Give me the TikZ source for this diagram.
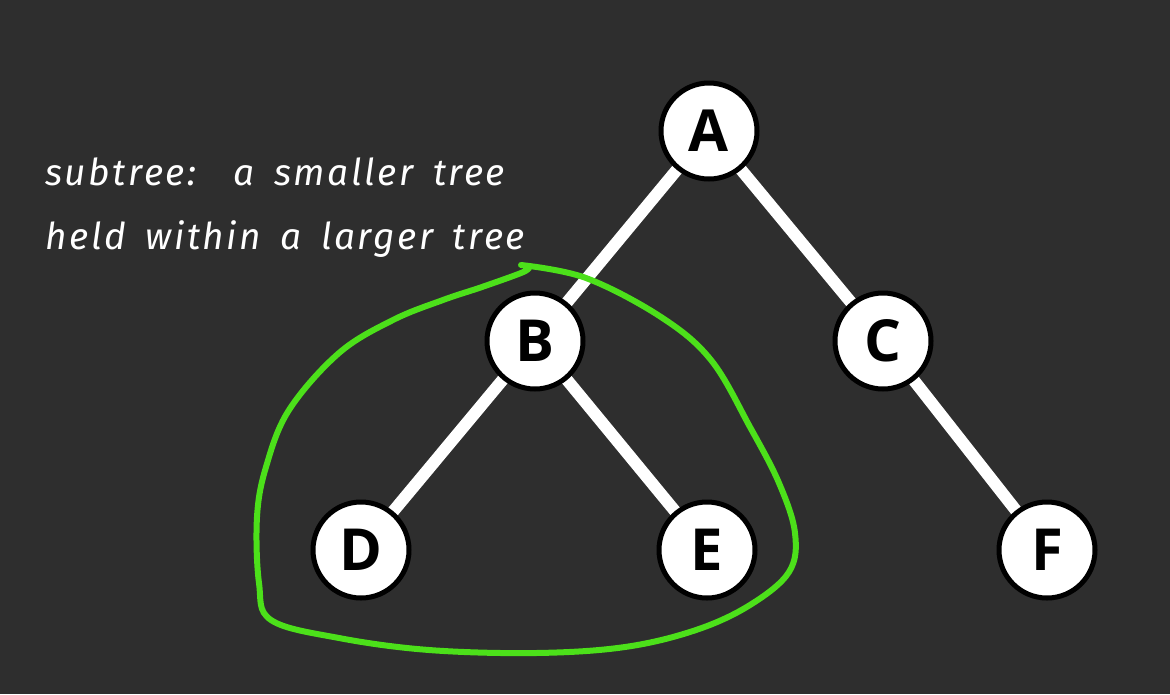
\documentclass[tikz,border=0pt]{standalone}
\usepackage{fontspec}
\newfontfamily\letterfont{Open Sans}
\newfontfamily\handfont{Fira Sans}[LetterSpace=7,WordSpace=1.6]
\definecolor{board}{HTML}{2E2E2E}
\definecolor{chalkgreen}{HTML}{4CE01A}
\begin{document}
\begin{tikzpicture}[x=1pt,y=-1pt,
  treenode/.style={circle,draw=black,line width=5pt,fill=white,minimum size=96pt,inner sep=0pt,
    font=\letterfont\bfseries\fontsize{58}{62}\selectfont},
  edge/.style={white,line width=12pt},
  loop/.style={chalkgreen,line width=6pt,line cap=round,line join=round},
  caption/.style={white,anchor=base west,inner sep=0pt,font=\handfont\itshape\fontsize{37}{42}\selectfont}]
\fill[board] (0,0) rectangle (1170,694);
\useasboundingbox (0,0) rectangle (1170,694);
\coordinate (pA) at (709,131);
\coordinate (pB) at (535,341);
\coordinate (pC) at (883,341);
\coordinate (pD) at (361,550);
\coordinate (pE) at (707,550);
\coordinate (pF) at (1047,550);
\draw[edge] (pA) -- (pB);
\draw[edge] (pA) -- (pC);
\draw[edge] (pB) -- (pD);
\draw[edge] (pB) -- (pE);
\draw[edge] (pC) -- (pF);
\node[treenode] (A) at (pA) {A};
\node[treenode] (B) at (pB) {B};
\node[treenode] (C) at (pC) {C};
\node[treenode] (D) at (pD) {D};
\node[treenode] (E) at (pE) {E};
\node[treenode] (F) at (pF) {F};
\node[caption] (t1) at (45,185) {subtree:\hspace{14pt} a smaller tree};
\node[caption] (t2) at (45,249) {held within a larger tree};
\draw[loop] plot[smooth,tension=0.6] coordinates {
 (521,265) (586,278) (661,317) (711,360) (750,427) (779,483) (795,533)
 (789,572) (750,605) (696,630) (625,647) (536,653) (429,650) (339,638)
 (271,620) (259,583) (257,517) (266,467) (289,410) (339,353) (393,320)
 (443,300) (482,287) (521,273) (529,268)};
\end{tikzpicture}
\end{document}
